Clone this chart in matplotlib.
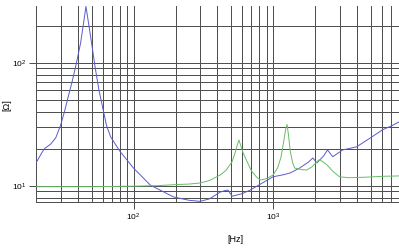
import matplotlib
matplotlib.use("Agg")
import matplotlib.pyplot as plt
from matplotlib.ticker import LogLocator, NullFormatter

plt.rcParams['font.family'] = ['Liberation Sans', 'DejaVu Sans']
plt.rcParams['mathtext.default'] = 'regular'

# blue trace: impedance of the woofer
blue_f = [20, 22, 23, 25.5, 27.7, 30, 32, 33.6, 36.5, 39, 41.8, 44.2, 45.6,
          47.2, 50, 53, 56.5, 61.3, 64, 68.5, 80, 100, 132, 193, 250, 300,
          350, 418, 450, 476, 495, 510, 600, 685, 850, 1000, 1200, 1330,
          1550, 1800, 1930, 2060, 2300, 2460, 2680, 3150, 3970, 5000, 6100,
          7000, 8000]
blue_z = [15.3, 18.5, 20, 21.8, 24.5, 31, 40, 50, 72, 100, 146, 224, 288,
          224, 146, 93, 60, 39, 31, 25, 19, 13.9, 10.1, 8.1, 7.6, 7.45,
          7.8, 8.85, 9.1, 9.2, 8.6, 8.2, 8.6, 9.2, 10.6, 11.8, 12.3, 12.7,
          13.9, 15.6, 16.8, 15.3, 17.4, 19.5, 17.2, 19.5, 20.7, 24.5, 28.5,
          30.5, 33]

# green trace: impedance of the tweeter
green_f = [20, 50, 100, 150, 200, 250, 300, 350, 418, 460, 508, 535, 555,
           570, 585, 610, 650, 700, 760, 810, 900, 1000, 1080, 1140, 1190,
           1230, 1260, 1290, 1330, 1380, 1430, 1600, 1740, 1900, 2050, 2130,
           2250, 2430, 2700, 3000, 3500, 4500, 6000, 8000]
green_z = [9.8, 9.8, 9.9, 10.0, 10.2, 10.3, 10.5, 11.0, 12.2, 13.3, 15.6,
           18.5, 21.5, 23.5, 21.5, 18.5, 15.8, 13.2, 11.8, 11.1, 11.4, 12.2,
           14.0, 17.0, 22.5, 28.5, 31.5, 26, 19, 15.5, 13.9, 13.5, 13.4,
           14.2, 15.5, 16.2, 15.8, 14.8, 13.0, 11.8, 11.6, 11.7, 11.9, 12.0]

fig = plt.figure(figsize=(3.99, 2.5), dpi=100)
ax = fig.add_axes([36 / 399, 1 - 201.7 / 250, 1 - 36 / 399, (201.7 - 6) / 250])

ax.plot(blue_f, blue_z, color='#5a5ad0', linewidth=0.7, zorder=3)
ax.plot(green_f, green_z, color='#68bc68', linewidth=0.7, zorder=3)

ax.set_xscale('log')
ax.set_yscale('log')
ax.set_xlim(20, 8000)
ax.set_ylim(7.4, 290)

for axis in (ax.xaxis, ax.yaxis):
    axis.set_major_locator(LogLocator(base=10))
    axis.set_minor_locator(LogLocator(base=10, subs=range(2, 10)))
    axis.set_minor_formatter(NullFormatter())

ax.grid(True, which='both', color='#505050', linewidth=0.72)
ax.set_axisbelow(True)
ax.tick_params(which='major', length=5, width=0.72, color='#505050',
               labelsize=6, pad=2)
ax.tick_params(which='minor', length=0)

for side in ('top', 'right'):
    ax.spines[side].set_visible(False)
for side in ('left', 'bottom'):
    ax.spines[side].set_color('#505050')
    ax.spines[side].set_linewidth(0.72)

fig.text(7 / 399, 1 - 105 / 250, '[Ω]', rotation=90, fontsize=6.5,
         ha='center', va='center')
fig.text(235 / 399, 1 - 240 / 250, '[Hz]', fontsize=6.5,
         ha='center', va='center')

fig.savefig('out.png', dpi=100)
